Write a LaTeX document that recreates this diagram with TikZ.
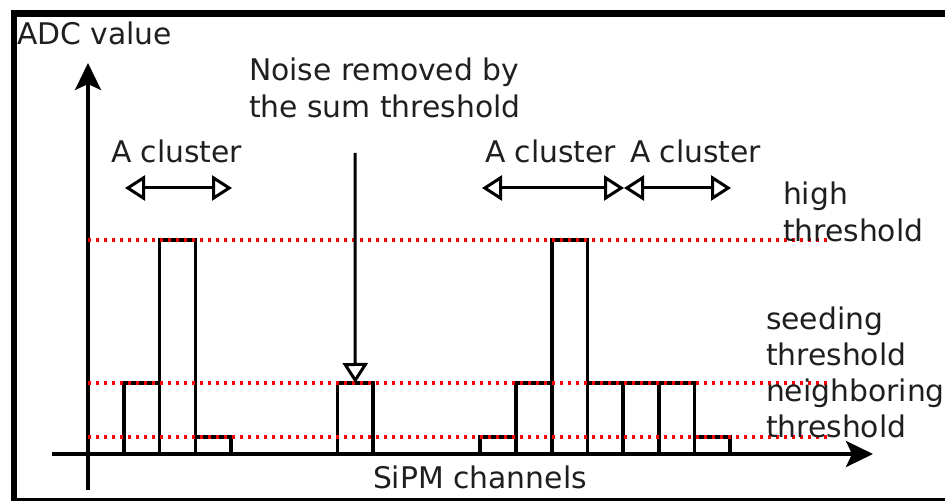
\documentclass[tikz,border=0pt]{standalone}
\usepackage{fontspec}
\setmainfont{DejaVu Sans}
\usetikzlibrary{arrows.meta}
\begin{document}
\begin{tikzpicture}[x=1pt,y=-1pt,
  txt/.style={inner sep=0pt,outer sep=0pt,anchor=base west,align=left,text=black!88,
    font=\fontsize{29.8pt}{37.8pt}\selectfont},
  txtb/.style={txt,font=\fontsize{29.8pt}{35.7pt}\selectfont},
  bar/.style={draw=black,line width=3.3pt},
  thr/.style={draw=red,line width=3.2pt,dash pattern=on 3.2pt off 4.8pt},
  axis/.style={draw=black,line width=3.3pt,-{Stealth[length=27pt,width=26pt,inset=6pt]}},
  span/.style={draw=black,line width=3pt,
    {Triangle[open,length=20pt,width=25pt,fill=white]}-{Triangle[open,length=20pt,width=25pt,fill=white]}},
  pointer/.style={draw=black,line width=3pt,-{Triangle[open,length=20pt,width=25pt,fill=white]}}
]
\useasboundingbox (0,0) rectangle (945,502);
% frame
\draw[line width=6.5pt] (14,10.5) -- (14,501);
\draw[line width=7pt] (10.7,13.7) -- (945,13.7);
\draw[line width=3pt] (10.7,499.5) -- (945,499.5);

% coordinates
\coordinate (yb) at (88,490);
\coordinate (yt) at (88,63);
\coordinate (xl) at (52,454);
\coordinate (xr) at (873,454);

% bars
\draw[bar] (124,454) rectangle (159.5,383);
\draw[bar] (159.5,454) rectangle (195.5,240);
\draw[bar] (195.5,454) rectangle (231,437);
\draw[bar] (337.5,454) rectangle (373,383);
\draw[bar] (480,454) rectangle (516,437);
\draw[bar] (516,454) rectangle (552,383);
\draw[bar] (552,454) rectangle (587.5,240);
\draw[bar] (587.5,454) rectangle (623,383);
\draw[bar] (623,454) rectangle (659,383);
\draw[bar] (659,454) rectangle (694.5,383);
\draw[bar] (694.5,454) rectangle (730,437);

% axes
\draw[axis] (yb) -- (yt);
\draw[axis] (xl) -- (xr);

% thresholds
\coordinate (h0) at (88,240); \coordinate (h1) at (830,240);
\coordinate (s0) at (88,383); \coordinate (s1) at (830,383);
\coordinate (n0) at (88,437); \coordinate (n1) at (830,437);
\draw[thr] (h0) -- (h1);
\draw[thr] (s0) -- (s1);
\draw[thr] (n0) -- (n1);

% cluster spans
\coordinate (a1) at (125,188); \coordinate (b1) at (232,188);
\coordinate (a2) at (482,188); \coordinate (b2) at (624,188);
\coordinate (a3) at (624,188); \coordinate (b3) at (731,188);
\draw[span] (a1) -- (b1);
\draw[span] (a2) -- (b2);
\draw[span] (a3) -- (b3);

% noise pointer
\coordinate (p0) at (355,153); \coordinate (p1) at (355.25,383);
\draw[pointer] (p0) -- (p1);

% texts (anchored at the baseline of the last line)
\node[txt] (adc) at (17,45) {ADC value};
\node[txt] (noise) at (249,118) {Noise removed by\\the sum threshold};
\node[txt] (c1) at (111,163) {A cluster};
\node[txt] (c2) at (485,163) {A cluster};
\node[txt] (c3) at (630,163) {A cluster};
\node[txt] (high) at (783,242) {high\\threshold};
\node[txtb] (seed) at (766,437) {seeding\\threshold\\neighboring\\threshold};
\node[txt] (sipm) at (373,488) {SiPM channels};
\end{tikzpicture}
\end{document}
